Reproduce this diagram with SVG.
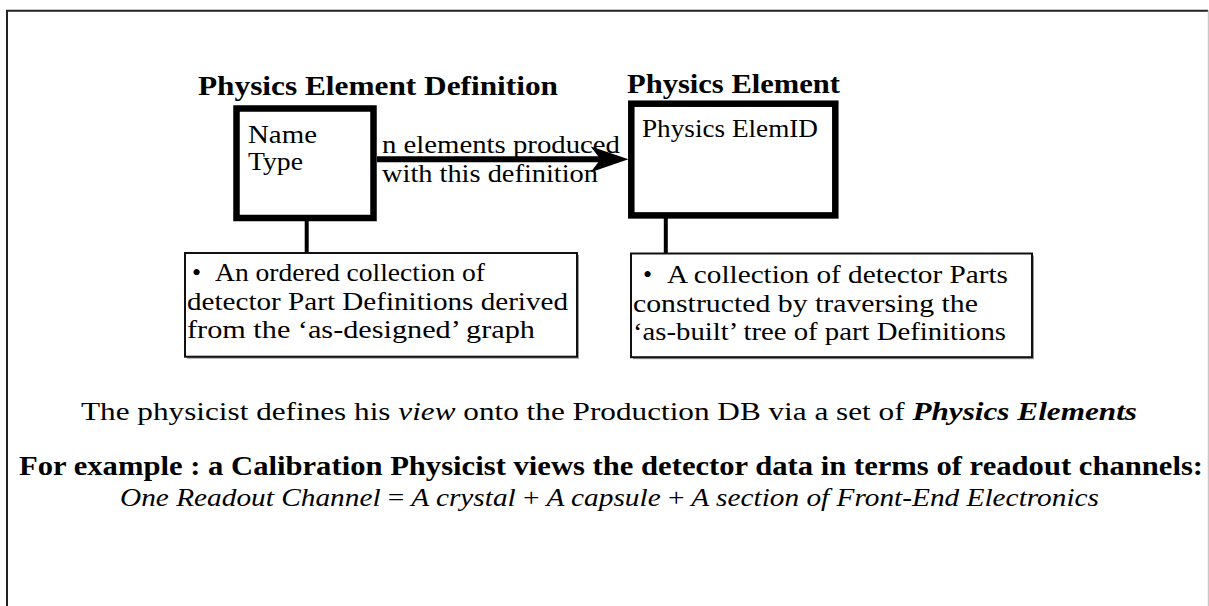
<svg xmlns="http://www.w3.org/2000/svg" width="1209" height="606" viewBox="0 0 1209 606">
<defs>
<style>
.t{font-family:"Liberation Serif","Times New Roman",serif;font-size:26px;fill:#000}
.title{font-size:28px;font-weight:bold}
.bold{font-weight:bold}
.it{font-style:italic}
.up{font-style:normal}
.heavy{fill:#fff;stroke:#000;stroke-width:6.5}
.note{fill:#fff;stroke:#111;stroke-width:2}
.shadow{fill:#999}
.stem{stroke:#000;stroke-width:4;fill:none}
</style>
<marker id="head" markerUnits="userSpaceOnUse" markerWidth="40" markerHeight="26" viewBox="0 0 40 26" refX="15" refY="13" orient="auto">
<path d="M0,0 L38,13 L0,26 L10,13 z" fill="#000"/>
</marker>
</defs>
<rect width="1209" height="606" fill="#fff"/>
<g id="frame">
<path d="M7,606 V10.7 H1208" fill="none" stroke="#222" stroke-width="2"/>
<line x1="1208.3" y1="10" x2="1208.3" y2="606" stroke="#bbb" stroke-width="1"/>
</g>
<g id="connectors">
<line x1="377" y1="159.3" x2="605.5" y2="159.3" stroke="#000" stroke-width="6" marker-end="url(#head)"/>
<line class="stem" x1="306.7" y1="220" x2="306.7" y2="253"/>
<line class="stem" x1="665.8" y1="217" x2="665.8" y2="254"/>
<text class="t" x="382" y="153" textLength="238" lengthAdjust="spacingAndGlyphs">n elements produced</text>
<text class="t" x="382" y="181.7" textLength="216" lengthAdjust="spacingAndGlyphs">with this definition</text>
</g>
<g id="node-physics-element-definition">
<text class="t title" x="198" y="95" textLength="360" lengthAdjust="spacingAndGlyphs">Physics Element Definition</text>
<rect class="heavy" x="236.5" y="108.5" width="137" height="109.5"/>
<text class="t" x="248" y="143.3" textLength="69" lengthAdjust="spacingAndGlyphs">Name</text>
<text class="t" x="248" y="170" textLength="55" lengthAdjust="spacingAndGlyphs">Type</text>
</g>
<g id="node-physics-element">
<text class="t title" x="627" y="93.3" textLength="213" lengthAdjust="spacingAndGlyphs">Physics Element</text>
<rect class="heavy" x="631.3" y="103.7" width="204" height="111.7"/>
<text class="t" x="642" y="136.7" textLength="176" lengthAdjust="spacingAndGlyphs">Physics ElemID</text>
</g>
<g id="note-definition">
<rect class="shadow" x="187" y="255" width="392" height="103.7"/>
<rect class="note" x="185" y="253" width="392" height="103.7"/>
<text class="t" x="192" y="281">•</text>
<text class="t" x="215" y="281" textLength="270" lengthAdjust="spacingAndGlyphs">An ordered collection of</text>
<text class="t" x="187" y="309.5" textLength="381" lengthAdjust="spacingAndGlyphs">detector Part Definitions derived</text>
<text class="t" x="187" y="338" textLength="348" lengthAdjust="spacingAndGlyphs">from the ‘as-designed’ graph</text>
</g>
<g id="note-element">
<rect class="shadow" x="633" y="255.5" width="401" height="103.7"/>
<rect class="note" x="631" y="253.5" width="401" height="103.7"/>
<text class="t" x="643" y="283">•</text>
<text class="t" x="667" y="283" textLength="341" lengthAdjust="spacingAndGlyphs">A collection of detector Parts</text>
<text class="t" x="633" y="311.5" textLength="345" lengthAdjust="spacingAndGlyphs">constructed by traversing the</text>
<text class="t" x="633" y="340" textLength="373" lengthAdjust="spacingAndGlyphs">‘as-built’ tree of part Definitions</text>
</g>
<g id="caption">
<text class="t" x="81" y="420" textLength="1056" lengthAdjust="spacingAndGlyphs">The physicist defines his <tspan class="it">view</tspan> onto the Production DB via a set of <tspan class="it bold">Physics Elements</tspan></text>
<text class="t bold" x="19" y="475" textLength="1184" lengthAdjust="spacingAndGlyphs" style="font-size:27px">For example : a Calibration Physicist views the detector data in terms of readout channels:</text>
<text class="t it" x="120" y="506" textLength="979" lengthAdjust="spacingAndGlyphs">One Readout Channel <tspan class="up">=</tspan> A crystal <tspan class="up">+</tspan> A capsule <tspan class="up">+</tspan> A section of Front-End Electronics</text>
</g>
</svg>
